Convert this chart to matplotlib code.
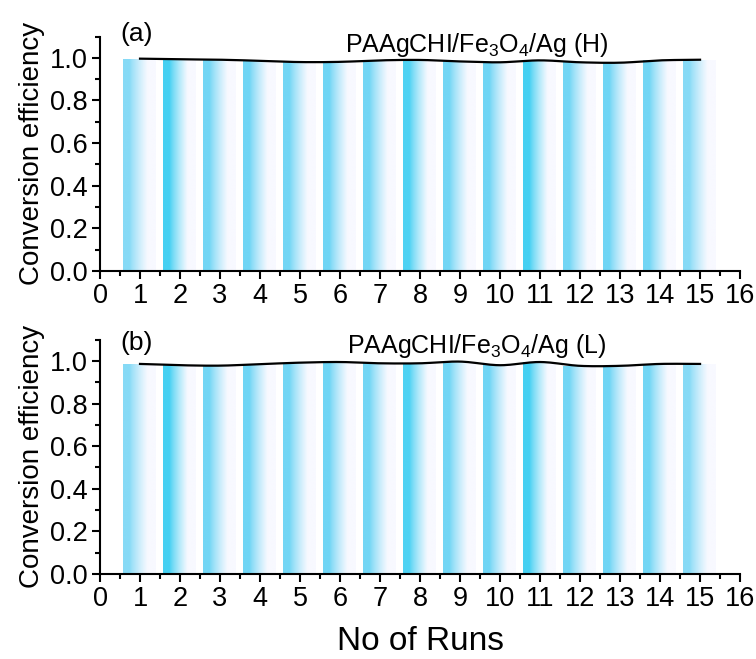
import numpy as np
import matplotlib
matplotlib.use("Agg")
import matplotlib.pyplot as plt
from matplotlib.colors import to_rgb
from matplotlib.ticker import MultipleLocator, FormatStrFormatter

plt.rcParams['font.family'] = ['Liberation Sans', 'DejaVu Sans']
plt.rcParams['mathtext.fontset'] = 'custom'
plt.rcParams['mathtext.rm'] = 'Liberation Sans'

# Conversion efficiency per run for the two catalysts
runs = np.arange(1, 16)
eff_H = [0.996, 0.993, 0.991, 0.986, 0.980, 0.981, 0.988, 0.990,
         0.983, 0.979, 0.988, 0.979, 0.977, 0.988, 0.991]
eff_L = [0.986, 0.980, 0.978, 0.985, 0.992, 0.995, 0.989, 0.989,
         0.997, 0.980, 0.995, 0.977, 0.977, 0.986, 0.986]
labels = [r'PAAgCHI/Fe$_3$O$_4$/Ag (H)', r'PAAgCHI/Fe$_3$O$_4$/Ag (L)']
panels = ['(a)', '(b)']

# left-edge colour of each gradient bar
bar_cols = ['#86daf6', '#45d0f2', '#72d6f5', '#6fd5f5', '#72d6f5',
            '#6fd5f5', '#72d6f5', '#4ed2f3', '#72d6f5', '#6fd5f5',
            '#45d0f2', '#72d6f5', '#6fd5f5', '#72d6f5', '#86daf6']


def gradient_bars(ax, x, y, width=0.8):
    bars = ax.bar(x - 0.02, y, width=width, color='none', edgecolor='none')
    t = np.linspace(0, 1, 256)
    # saturated near the left edge, fading to an off-white on the right
    w = np.clip((t - 0.2) / 0.55, 0, 1) ** 0.8
    white = np.array(to_rgb('#f8f9ff'))
    for rect, c in zip(bars, bar_cols):
        c = np.array(to_rgb(c))
        img = (1 - w)[:, None] * c + w[:, None] * white
        img = img[None, :, :]
        x0, y0 = rect.get_x(), rect.get_y()
        im = ax.imshow(img, extent=[x0, x0 + rect.get_width(), y0, y0 + rect.get_height()],
                       aspect='auto', zorder=1, interpolation='bilinear')
        im.set_clip_path(rect)


def smooth(x, y, n=20):
    # Catmull-Rom curve through the points
    x = np.asarray(x, float)
    y = np.asarray(y, float)
    px = np.concatenate([[2 * x[0] - x[1]], x, [2 * x[-1] - x[-2]]])
    py = np.concatenate([[2 * y[0] - y[1]], y, [2 * y[-1] - y[-2]]])
    xs, ys = [], []
    t = np.linspace(0, 1, n, endpoint=False)
    for i in range(1, len(px) - 2):
        for p, out in ((px, xs), (py, ys)):
            p0, p1, p2, p3 = p[i - 1], p[i], p[i + 1], p[i + 2]
            out.extend(0.5 * (2 * p1 + (-p0 + p2) * t
                              + (2 * p0 - 5 * p1 + 4 * p2 - p3) * t ** 2
                              + (-p0 + 3 * p1 - 3 * p2 + p3) * t ** 3))
    xs.append(x[-1])
    ys.append(y[-1])
    return np.array(xs), np.array(ys)


fig = plt.figure(figsize=(7.56, 6.59), dpi=100)
ax1 = fig.add_axes([0.1323, 0.589, 0.8466, 0.3556])
ax2 = fig.add_axes([0.1323, 0.129, 0.8466, 0.3556])

for ax, eff, lab, pan, ty, py in zip([ax1, ax2], [eff_H, eff_L], labels, panels,
                                     [1.025, 1.036], [1.08, 1.052]):
    gradient_bars(ax, runs, eff)
    sx, sy = smooth(runs, eff)
    ax.plot(sx, sy, color='black', lw=1.6, zorder=3)
    ax.set_xlim(0, 16)
    ax.set_ylim(0, 1.1)
    ax.xaxis.set_major_locator(MultipleLocator(1))
    ax.xaxis.set_minor_locator(MultipleLocator(0.5))
    ax.yaxis.set_major_locator(MultipleLocator(0.2))
    ax.yaxis.set_minor_locator(MultipleLocator(0.1))
    ax.yaxis.set_major_formatter(FormatStrFormatter('%.1f'))
    for s in ['top', 'right']:
        ax.spines[s].set_visible(False)
    for s in ['left', 'bottom']:
        ax.spines[s].set_linewidth(1.5)
    ax.tick_params(which='major', direction='out', length=6, width=1.5,
                   labelsize=19.5, pad=3)
    ax.tick_params(which='minor', direction='out', length=3.5, width=1.5)
    ax.set_ylabel('Conversion efficiency', fontsize=20, labelpad=3)
    ax.text(0.5, py, pan, fontsize=19, ha='left', va='baseline')
    ax.text(9.41, ty, lab, fontsize=18, ha='center', va='baseline')

ax2.set_xlabel('No of Runs', fontsize=24, labelpad=10)

fig.savefig('out.png', dpi=100)
